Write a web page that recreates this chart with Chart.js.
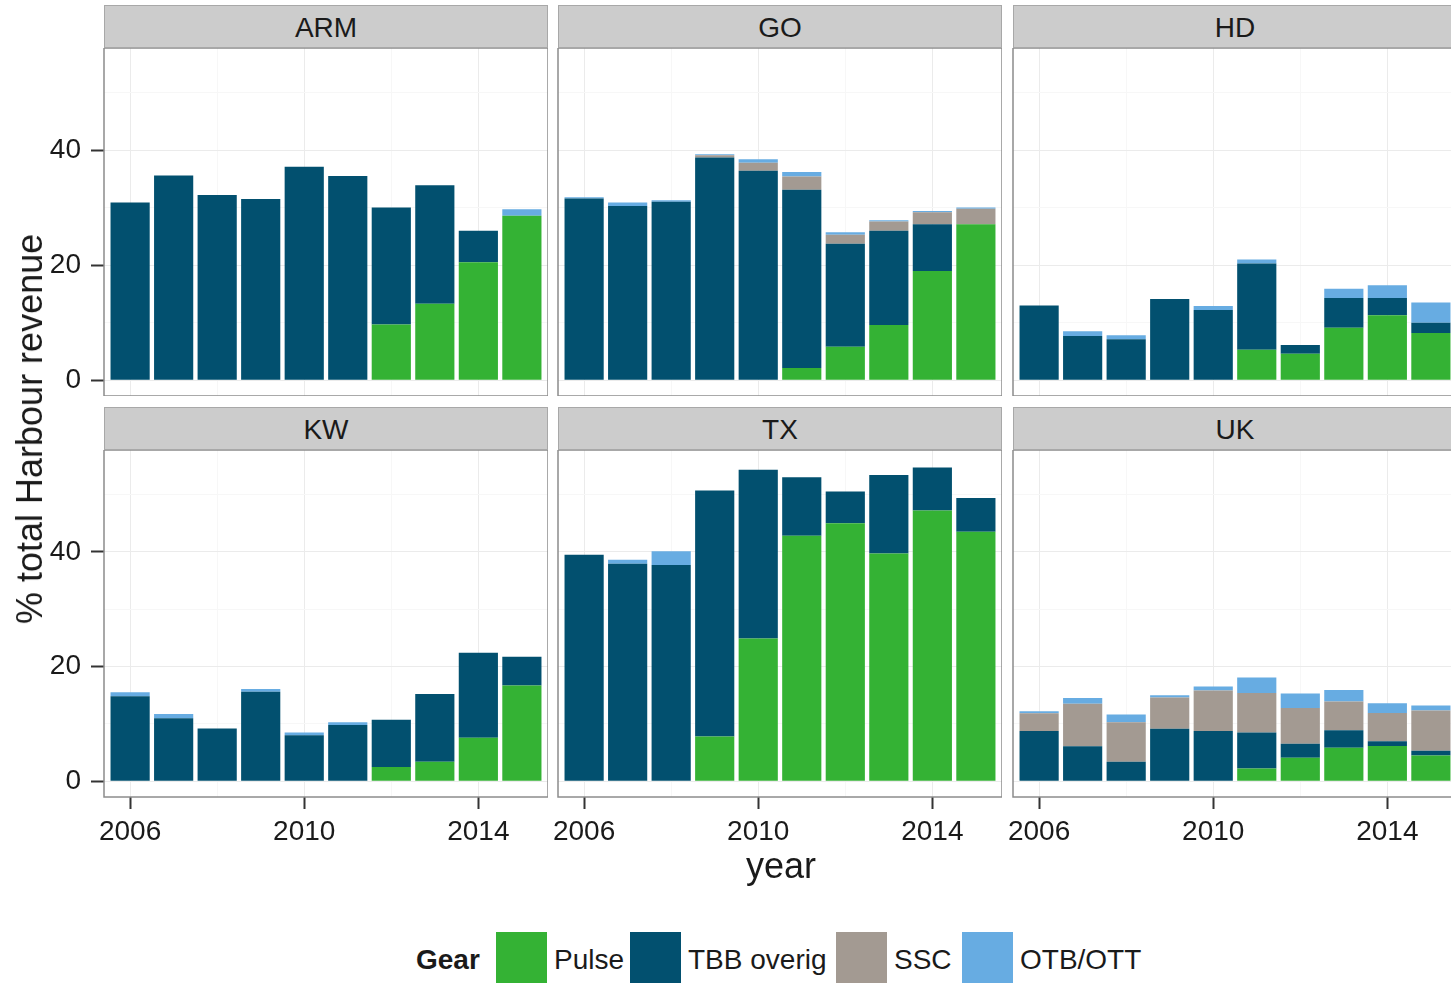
<!DOCTYPE html>
<html>
<head>
<meta charset="utf-8">
<title>% total Harbour revenue by gear</title>
<script src="https://cdn.jsdelivr.net/npm/chart.js@4.4.0/dist/chart.umd.min.js"></script>
<style>
  html, body { margin: 0; padding: 0; background: #fff; }
  body {
    width: 1451px; height: 983px; overflow: hidden; position: relative;
    font-family: "Liberation Sans", Arial, sans-serif; color: #1a1a1a;
  }
  canvas { position: absolute; }
  .strip {
    position: absolute; height: 43px; width: 444px; box-sizing: border-box;
    background: #cccccc; border: 1px solid #a8a8a8; padding-top: 2px;
    display: flex; align-items: center; justify-content: center;
    font-size: 28px;
  }
  .label { position: absolute; white-space: nowrap; }
  .key { position: absolute; top: 932px; width: 51px; height: 52px; }
  .legend-text { position: absolute; top: 943px; line-height: 34px; font-size: 28px; white-space: nowrap; }
</style>
</head>
<body>
<div id="root"></div>
<script>
  // Years on the x axis (one bar per year)
  const YEARS = [2006, 2007, 2008, 2009, 2010, 2011, 2012, 2013, 2014, 2015];
  const X_LABELS = [2006, 2010, 2014];
  const Y_LABELS = [0, 20, 40];

  // Gears, stacked bottom to top
  const GEARS = ['Pulse', 'TBB overig', 'SSC', 'OTB/OTT'];
  const GEAR_COLORS = ['#34b234', '#02506f', '#a39a92', '#67ace2'];

  // % of total harbour revenue
  const ARM_PULSE = [0, 0, 0, 0, 0, 0, 9.7, 13.3, 20.5, 28.6];
  const ARM_TBB   = [30.9, 35.6, 32.2, 31.5, 37.1, 35.5, 20.3, 20.6, 5.5, 0];
  const ARM_SSC   = [0, 0, 0, 0, 0, 0, 0, 0, 0, 0];
  const ARM_OTB   = [0, 0, 0, 0, 0, 0, 0, 0, 0, 1.1];

  const GO_PULSE = [0, 0, 0, 0, 0, 2.1, 5.8, 9.6, 19.0, 27.1];
  const GO_TBB   = [31.6, 30.3, 31.0, 38.7, 36.4, 31.0, 17.9, 16.4, 8.1, 0];
  const GO_SSC   = [0, 0, 0, 0.4, 1.4, 2.3, 1.6, 1.6, 2.1, 2.7];
  const GO_OTB   = [0.2, 0.6, 0.3, 0.2, 0.6, 0.8, 0.4, 0.2, 0.2, 0.2];

  const HD_PULSE = [0, 0, 0, 0, 0, 5.3, 4.6, 9.1, 11.3, 8.2];
  const HD_TBB   = [13.0, 7.7, 7.1, 14.1, 12.2, 15.0, 1.5, 5.2, 3.0, 1.8];
  const HD_SSC   = [0, 0, 0, 0, 0, 0, 0, 0, 0, 0];
  const HD_OTB   = [0, 0.8, 0.7, 0, 0.7, 0.7, 0, 1.6, 2.2, 3.5];

  const KW_PULSE = [0, 0, 0, 0, 0, 0, 2.5, 3.4, 7.6, 16.7];
  const KW_TBB   = [14.8, 11.0, 9.2, 15.6, 8.0, 9.8, 8.2, 11.8, 14.8, 5.0];
  const KW_SSC   = [0, 0, 0, 0, 0, 0, 0, 0, 0, 0];
  const KW_OTB   = [0.7, 0.7, 0, 0.5, 0.5, 0.5, 0, 0, 0, 0];

  const TX_PULSE = [0, 0, 0, 7.8, 24.9, 42.8, 45.0, 39.7, 47.2, 43.5];
  const TX_TBB   = [39.5, 37.9, 37.7, 42.9, 29.4, 10.2, 5.5, 13.7, 7.5, 5.9];
  const TX_SSC   = [0, 0, 0, 0, 0, 0, 0, 0, 0, 0];
  const TX_OTB   = [0, 0.7, 2.4, 0, 0, 0, 0, 0, 0, 0];

  const UK_PULSE = [0, 0, 0, 0, 0, 2.2, 4.1, 5.85, 6.15, 4.5];
  const UK_TBB   = [8.75, 6.1, 3.4, 9.15, 8.75, 6.3, 2.45, 3.05, 0.8, 0.8];
  const UK_SSC   = [3.1, 7.4, 6.9, 5.45, 7.05, 6.9, 6.2, 5.0, 4.95, 7.05];
  const UK_OTB   = [0.35, 1.0, 1.35, 0.4, 0.7, 2.7, 2.55, 2.0, 1.7, 0.85];

  const PANELS = [
    { name: 'ARM', series: [ARM_PULSE, ARM_TBB, ARM_SSC, ARM_OTB] },
    { name: 'GO',  series: [GO_PULSE, GO_TBB, GO_SSC, GO_OTB] },
    { name: 'HD',  series: [HD_PULSE, HD_TBB, HD_SSC, HD_OTB] },
    { name: 'KW',  series: [KW_PULSE, KW_TBB, KW_SSC, KW_OTB] },
    { name: 'TX',  series: [TX_PULSE, TX_TBB, TX_SSC, TX_OTB] },
    { name: 'UK',  series: [UK_PULSE, UK_TBB, UK_SSC, UK_OTB] }
  ];

  // Layout (px)
  const COL_X = [104, 558, 1013];
  const ROW_TOP = [48, 450];
  const STRIP_TOP = [5, 407];
  const PANEL_W = 444;
  const PANEL_H = [348, 347];
  const X_AXIS_H = 64;
  const FONT = '"Liberation Sans", Arial, sans-serif';

  const root = document.getElementById('root');

  // grey frame round each panel
  const panelBorder = {
    id: 'panelBorder',
    afterDraw(chart) {
      const a = chart.chartArea;
      const c = chart.ctx;
      c.save();
      c.strokeStyle = '#8c8c8c';
      c.lineWidth = 1.5;
      c.strokeRect(a.left, a.top, a.right - a.left, a.bottom - a.top);
      c.restore();
    }
  };

  function addLabel(text, css, cls) {
    const d = document.createElement('div');
    d.className = cls || 'label';
    d.textContent = text;
    Object.assign(d.style, css);
    root.appendChild(d);
    return d;
  }

  function drawPanel(p, i) {
    const r = Math.floor(i / 3);
    const c = i % 3;
    const leftCol = c === 0;
    const bottomRow = r === 1;

    const left = leftCol ? 0 : COL_X[c] - 10;
    const yW = COL_X[c] - left;
    const canvas = document.createElement('canvas');
    canvas.width = yW + PANEL_W;
    canvas.height = PANEL_H[r] + (bottomRow ? X_AXIS_H : 0);
    canvas.style.left = left + 'px';
    canvas.style.top = ROW_TOP[r] + 'px';
    root.appendChild(canvas);

    addLabel(p.name, { left: COL_X[c] + 'px', top: STRIP_TOP[r] + 'px' }, 'strip');

    new Chart(canvas, {
      type: 'bar',
      data: {
        datasets: GEARS.map((g, k) => ({
          label: g,
          data: YEARS.map((yr, j) => ({ x: yr, y: p.series[k][j] })),
          backgroundColor: GEAR_COLORS[k],
          borderWidth: 0,
          barPercentage: 0.9,
          categoryPercentage: 1
        }))
      },
      options: {
        responsive: false,
        animation: false,
        events: [],
        layout: { padding: 0 },
        plugins: { legend: { display: false }, tooltip: { enabled: false } },
        scales: {
          x: {
            type: 'linear',
            stacked: true,
            min: 2005.4,
            max: 2015.6,
            offset: false,
            border: { display: false },
            grid: {
              offset: false,
              drawTicks: bottomRow,
              tickLength: 12,
              tickWidth: 2,
              lineWidth: 1,
              color: ctx => X_LABELS.includes(ctx.tick.value) ? '#ebebeb' : '#f7f7f7',
              tickColor: ctx => X_LABELS.includes(ctx.tick.value) ? '#333333' : 'rgba(0,0,0,0)'
            },
            ticks: {
              display: bottomRow,
              stepSize: 2,
              includeBounds: false,
              autoSkip: false,
              maxRotation: 0,
              padding: 6,
              color: '#1a1a1a',
              font: { family: FONT, size: 28 },
              callback: v => X_LABELS.includes(v) ? String(v) : ''
            },
            afterFit: s => {
              s.height = bottomRow ? X_AXIS_H : 0;
              s.paddingLeft = 0;
              s.paddingRight = 0;
            }
          },
          y: {
            type: 'linear',
            stacked: true,
            min: -2.75,
            max: 57.75,
            border: { display: false },
            grid: {
              drawTicks: leftCol,
              tickLength: 13,
              tickWidth: 2,
              lineWidth: 1,
              color: ctx => Y_LABELS.includes(ctx.tick.value) ? '#ebebeb' : '#f7f7f7',
              tickColor: ctx => Y_LABELS.includes(ctx.tick.value) ? '#333333' : 'rgba(0,0,0,0)'
            },
            ticks: {
              display: leftCol,
              stepSize: 10,
              includeBounds: false,
              padding: 10,
              color: '#1a1a1a',
              font: { family: FONT, size: 28 },
              callback: v => Y_LABELS.includes(v) ? String(v) : ''
            },
            afterFit: s => {
              s.width = yW;
              s.paddingTop = 0;
              s.paddingBottom = 0;
            }
          }
        }
      },
      plugins: [panelBorder]
    });
  }

  PANELS.forEach(drawPanel);

  // axis titles
  addLabel('% total Harbour revenue', {
    left: '30px', top: '429px', fontSize: '36px',
    transform: 'translate(-50%, -50%) rotate(-90deg)'
  });
  addLabel('year', {
    left: '781px', top: '866px', fontSize: '36px',
    transform: 'translate(-50%, -50%)'
  });

  // legend
  const KEY_X = [496, 630, 836, 962];
  const TEXT_X = [554, 688, 894, 1020];
  addLabel('Gear', { left: '416px', top: '943px', lineHeight: '34px', fontSize: '28px', fontWeight: 'bold' });
  GEARS.forEach((g, k) => {
    const key = document.createElement('div');
    key.className = 'key';
    key.style.left = KEY_X[k] + 'px';
    key.style.background = GEAR_COLORS[k];
    root.appendChild(key);
    addLabel(g, { left: TEXT_X[k] + 'px' }, 'legend-text');
  });
</script>
</body>
</html>
